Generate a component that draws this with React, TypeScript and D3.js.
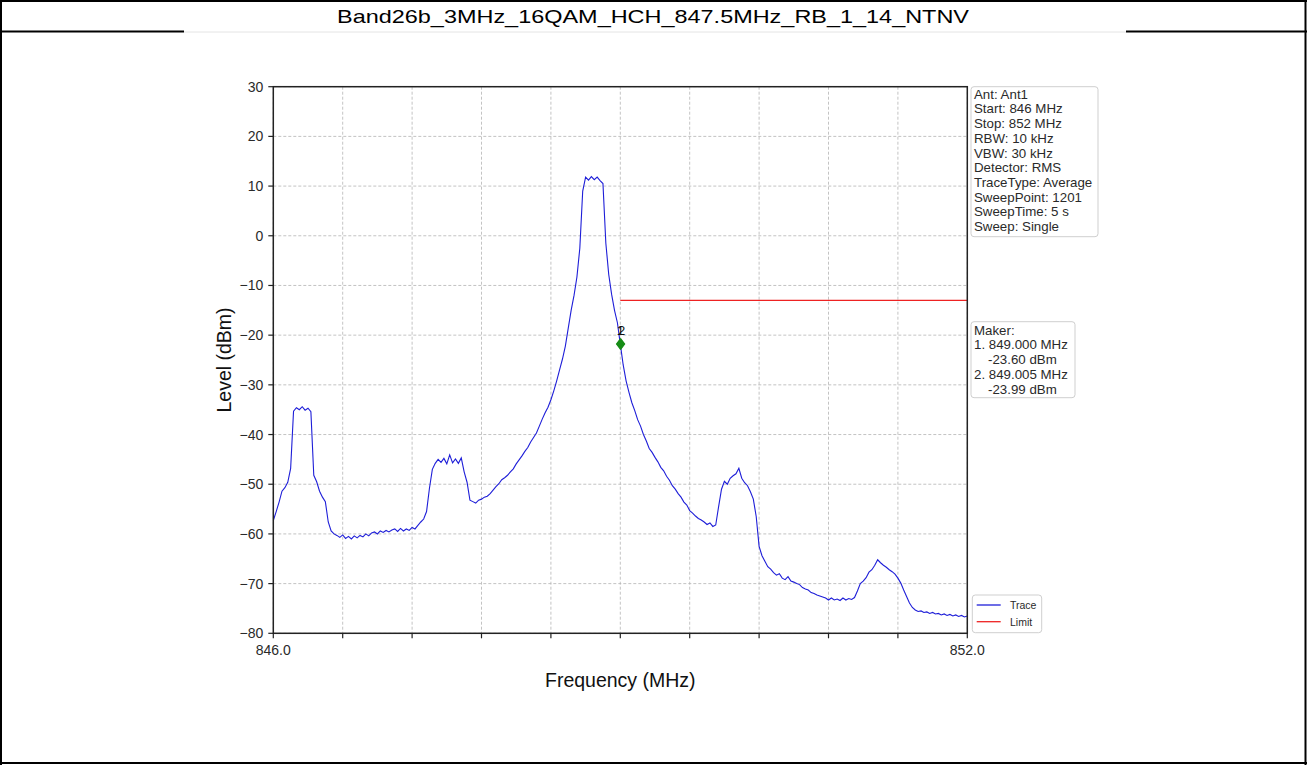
import React from 'react';
import * as d3 from 'd3';

const TITLE = 'Band26b_3MHz_16QAM_HCH_847.5MHz_RB_1_14_NTNV';
const START_MHZ = 846;
const STOP_MHZ = 852;
const STEP_MHZ = 0.025;

// Trace levels (dBm), one per sweep step of 0.025 MHz from 846 to 852 MHz
const LEVELS = [
  -57.3, -55.5, -53.6, -51.4, -50.7, -49.6, -46.8, -35.3, -34.6, -35.0,
  -34.4, -35.1, -34.7, -35.4, -48.2, -49.5, -51.4, -52.6, -53.5, -57.6,
  -59.4, -60.0, -60.3, -60.7, -60.2, -60.9, -60.5, -61.0, -60.4, -60.8,
  -60.3, -60.6, -60.0, -60.4, -59.8, -59.6, -60.0, -59.4, -59.7, -59.3,
  -59.6, -59.2, -59.0, -59.5, -58.9, -59.4, -59.0, -59.3, -58.7, -59.0,
  -58.3, -57.6, -57.0, -55.5, -50.8, -47.0, -45.8, -45.0, -45.6, -44.8,
  -45.9, -44.1, -45.7, -44.9, -45.8, -44.7, -47.5, -49.6, -53.2, -53.5,
  -53.8, -53.2, -53.0, -52.6, -52.4, -51.9, -51.2, -50.5, -49.9, -49.1,
  -48.7, -48.2, -47.5, -46.9, -45.9, -45.1, -44.3, -43.4, -42.6, -41.5,
  -40.6, -39.7, -38.3, -36.9, -35.6, -34.5, -33.0, -31.2, -29.2, -27.0,
  -24.8, -22.2, -18.6, -15.0, -12.0, -8.3, -2.5, 9.0, 11.8, 11.2,
  11.9, 11.3, 11.8, 11.1, 10.5, -1.5, -7.8, -11.8, -15.0, -17.5,
  -21.8, -26.0, -29.2, -31.5, -33.6, -35.2, -37.0, -38.3, -40.0, -41.3,
  -42.8, -43.6, -44.6, -45.5, -46.6, -47.3, -48.4, -49.2, -50.3, -51.0,
  -51.9, -52.6, -53.6, -54.2, -55.3, -55.8, -56.4, -56.9, -57.2, -57.6,
  -58.1, -57.8, -58.5, -58.2, -54.5, -51.0, -49.4, -50.0, -48.8, -48.3,
  -47.9, -46.8, -48.8, -49.7, -50.3, -51.5, -53.0, -56.5, -62.5, -64.4,
  -65.5, -66.6, -67.1, -67.8, -68.3, -68.0, -68.9, -69.2, -68.6, -69.5,
  -69.7, -70.0, -70.2, -70.8, -71.1, -71.3, -71.8, -72.0, -72.3, -72.5,
  -72.7, -72.9, -73.3, -72.9, -73.3, -73.1, -73.4, -72.9, -73.3, -73.0,
  -73.2, -72.8, -71.5, -70.0, -69.5, -68.8, -67.7, -67.2, -66.3, -65.2,
  -65.8, -66.3, -66.7, -67.2, -67.6, -68.1, -68.9, -69.9, -71.3, -72.6,
  -73.9, -74.8, -75.3, -75.6, -75.5, -75.8, -75.7, -76.0, -75.8, -76.1,
  -76.0, -76.3, -76.1, -76.4, -76.2, -76.5, -76.3, -76.6, -76.4, -76.7,
  -76.5,
];

const Y_TICKS = [30, 20, 10, 0, -10, -20, -30, -40, -50, -60, -70, -80];
const X_TICKS = [846.0, 846.6, 847.2, 847.8, 848.4, 849.0, 849.6, 850.2, 850.8, 851.4, 852.0];
const X_TICK_LABELS = ['846.0', '', '', '', '', '', '', '', '', '', '852.0'];

const LIMIT_START_MHZ = 849.0;
const LIMIT_LEVEL = -13;

const MARKER_LABELS = ['1', '2'];
const MARKER_FREQS = [849.0, 849.005];
const MARKER_LEVELS = [-23.6, -23.99];

const INFO_LINES = [
  'Ant: Ant1',
  'Start: 846 MHz',
  'Stop: 852 MHz',
  'RBW: 10 kHz',
  'VBW: 30 kHz',
  'Detector: RMS',
  'TraceType: Average',
  'SweepPoint: 1201',
  'SweepTime: 5 s',
  'Sweep: Single',
];

const LEGEND_ITEMS = ['Trace', 'Limit'];

const W = 1307;
const H = 765;
const FONT = 'Liberation Sans, Arial, Helvetica, sans-serif';

const M = { left: 273.3, right: 967.3, top: 86.7, bottom: 633.3 };

const TRACE_COLOR = '#1e1ed8';
const LIMIT_COLOR = '#ee2222';

function fmtTick(v: number) {
  return v < 0 ? '\u2212' + Math.abs(v) : String(v);
}

export default function App() {
  const x = d3.scaleLinear().domain([START_MHZ, STOP_MHZ]).range([M.left, M.right]);
  const y = d3.scaleLinear().domain([-80, 30]).range([M.bottom, M.top]);

  const freqs = LEVELS.map((_, i) => START_MHZ + i * STEP_MHZ);
  const pts: [number, number][] = LEVELS.map((v, i) => [freqs[i], v]);
  const line = d3
    .line<[number, number]>()
    .x((d) => x(d[0]))
    .y((d) => y(d[1]));

  const traceAt = (f: number) => {
    const idx = (f - START_MHZ) / STEP_MHZ;
    const i0 = Math.floor(idx + 1e-9);
    return LEVELS[i0];
  };

  const infoX = 971;
  const infoY = 86.7;
  const lh = 14.7;

  const makerLines = [
    { text: 'Maker:', dx: 3 },
    { text: `1. ${MARKER_FREQS[0].toFixed(3)} MHz`, dx: 3 },
    { text: `${MARKER_LEVELS[0].toFixed(2)} dBm`, dx: 17 },
    { text: `2. ${MARKER_FREQS[1].toFixed(3)} MHz`, dx: 3 },
    { text: `${MARKER_LEVELS[1].toFixed(2)} dBm`, dx: 17 },
  ];

  return (
    <svg
      width={W}
      height={H}
      style={{ position: 'absolute', left: 0, top: 0, background: '#fff' }}
      fontFamily={FONT}
    >
      <rect x={0} y={0} width={W} height={H} fill="#fff" />
      {/* table borders */}
      <line x1={0} x2={W} y1={1} y2={1} stroke="#000" strokeWidth={2} />
      <line x1={1} x2={1} y1={0} y2={H} stroke="#000" strokeWidth={2} />
      <line x1={W - 1.5} x2={W - 1.5} y1={0} y2={H} stroke="#000" strokeWidth={2} />
      <line x1={0} x2={W} y1={H - 2} y2={H - 2} stroke="#000" strokeWidth={2} />
      <line x1={0} x2={184} y1={31.5} y2={31.5} stroke="#000" strokeWidth={2} />
      <line x1={1126} x2={W} y1={31.5} y2={31.5} stroke="#000" strokeWidth={2} />
      <line x1={184} x2={1126} y1={32} y2={32} stroke="#e4e4e4" strokeWidth={1} />
      <text
        x={653}
        y={23}
        textAnchor="middle"
        fontSize={19}
        fill="#000"
        textLength={632}
        lengthAdjust="spacingAndGlyphs"
      >
        {TITLE}
      </text>

      {/* grid */}
      {Y_TICKS.map((t) => (
        <line
          key={'gy' + t}
          x1={M.left}
          x2={M.right}
          y1={y(t)}
          y2={y(t)}
          stroke="#b4b4b4"
          strokeWidth={0.8}
          strokeDasharray="3,2"
        />
      ))}
      {X_TICKS.map((t) => (
        <line
          key={'gx' + t}
          x1={x(t)}
          x2={x(t)}
          y1={M.top}
          y2={M.bottom}
          stroke="#b4b4b4"
          strokeWidth={0.8}
          strokeDasharray="3,2"
        />
      ))}

      {/* limit line */}
      <line
        x1={x(LIMIT_START_MHZ)}
        x2={x(STOP_MHZ)}
        y1={y(LIMIT_LEVEL)}
        y2={y(LIMIT_LEVEL)}
        stroke={LIMIT_COLOR}
        strokeWidth={1.3}
      />

      {/* trace */}
      <path d={line(pts) || ''} fill="none" stroke={TRACE_COLOR} strokeWidth={1.1} />

      {/* markers */}
      {MARKER_FREQS.map((f, i) => {
        const cx = x(f);
        const cy = y(traceAt(f));
        const s = 6;
        return (
          <g key={'m' + i}>
            <path
              d={`M${cx},${cy - s} L${cx + s * 0.75},${cy} L${cx},${cy + s} L${cx - s * 0.75},${cy} Z`}
              fill="#168c16"
            />
            <text x={cx + i * 0.8} y={cy - 9} textAnchor="middle" fontSize={13} fill="#111">
              {MARKER_LABELS[i]}
            </text>
          </g>
        );
      })}

      {/* spines */}
      <rect
        x={M.left}
        y={M.top}
        width={M.right - M.left}
        height={M.bottom - M.top}
        fill="none"
        stroke="#222"
        strokeWidth={1.5}
      />

      {/* y ticks */}
      {Y_TICKS.map((t) => (
        <g key={'yt' + t}>
          <line x1={M.left - 5} x2={M.left} y1={y(t)} y2={y(t)} stroke="#222" strokeWidth={1.2} />
          <text x={M.left - 10} y={y(t) + 5} textAnchor="end" fontSize={14} fill="#2a2a2a">
            {fmtTick(t)}
          </text>
        </g>
      ))}
      {/* x ticks */}
      {X_TICKS.map((t, i) => (
        <g key={'xt' + t}>
          <line x1={x(t)} x2={x(t)} y1={M.bottom} y2={M.bottom + 5} stroke="#222" strokeWidth={1.2} />
          {X_TICK_LABELS[i] && (
            <text x={x(t)} y={M.bottom + 22} textAnchor="middle" fontSize={14} fill="#2a2a2a">
              {X_TICK_LABELS[i]}
            </text>
          )}
        </g>
      ))}

      {/* axis labels */}
      <text
        transform={`translate(${231},${(M.top + M.bottom) / 2}) rotate(-90)`}
        textAnchor="middle"
        fontSize={19.5}
        fill="#111"
      >
        Level (dBm)
      </text>
      <text x={(M.left + M.right) / 2} y={687} textAnchor="middle" fontSize={19.5} fill="#111">
        Frequency (MHz)
      </text>

      {/* info box */}
      <rect
        x={infoX}
        y={infoY}
        width={127}
        height={150}
        rx={3}
        fill="#fff"
        stroke="#cfcfcf"
        strokeWidth={1}
      />
      {INFO_LINES.map((s, i) => (
        <text key={'info' + i} x={infoX + 3} y={infoY + 12 + i * lh} fontSize={13.3} fill="#2a2a2a">
          {s}
        </text>
      ))}

      {/* marker box */}
      <rect x={infoX} y={321.7} width={104} height={76} rx={3} fill="#fff" stroke="#cfcfcf" strokeWidth={1} />
      {makerLines.map((l, i) => (
        <text key={'mk' + i} x={infoX + l.dx} y={321.7 + 13 + i * lh} fontSize={13.3} fill="#2a2a2a">
          {l.text}
        </text>
      ))}

      {/* legend */}
      <rect x={972.3} y={595} width={69.4} height={37.7} rx={3} fill="#fff" stroke="#cfcfcf" strokeWidth={1} />
      {LEGEND_ITEMS.map((name, i) => (
        <g key={'lg' + name}>
          <line
            x1={976.7}
            x2={1000.7}
            y1={605 + i * 16.7}
            y2={605 + i * 16.7}
            stroke={i === 0 ? TRACE_COLOR : LIMIT_COLOR}
            strokeWidth={1.3}
          />
          <text x={1010} y={609 + i * 16.7} fontSize={10.5} fill="#2a2a2a">
            {name}
          </text>
        </g>
      ))}
    </svg>
  );
}
